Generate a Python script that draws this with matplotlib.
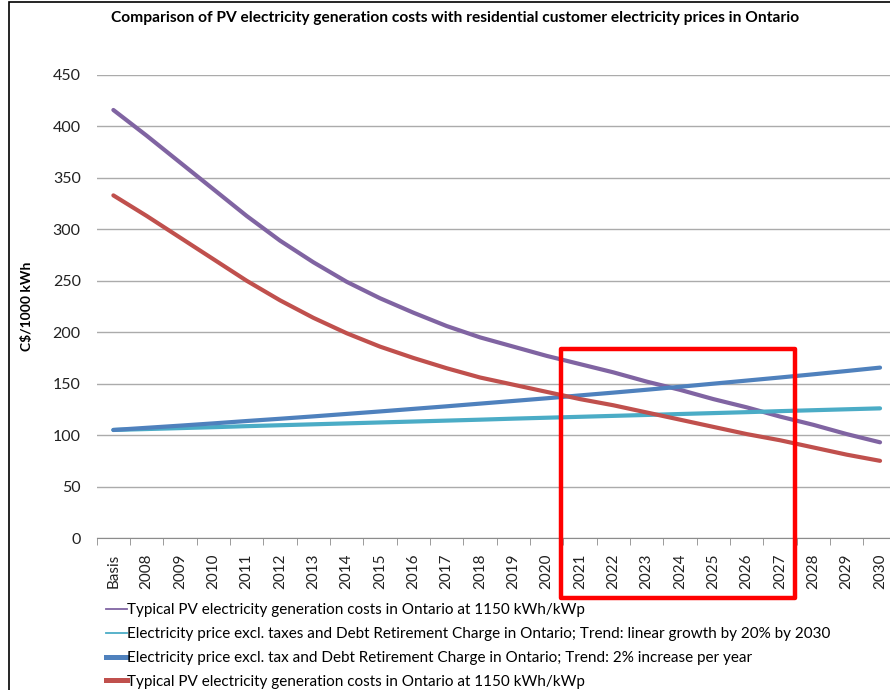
import matplotlib
matplotlib.use("Agg")
import matplotlib.pyplot as plt
from matplotlib.lines import Line2D
from matplotlib.patches import Rectangle

plt.rcParams["font.family"] = ["Lato", "DejaVu Sans"]

YEARS = ["Basis"] + [str(y) for y in range(2008, 2031)]

# C$/1000 kWh
PV_COST_A = [416, 391, 365, 339, 313, 289, 268, 249, 233, 219, 206, 195,
             186, 177, 169, 161, 152, 144, 135, 127, 118, 110, 101, 93]
PRICE_LINEAR = [105.0, 105.9, 106.8, 107.7, 108.7, 109.6, 110.5, 111.4,
                112.3, 113.2, 114.1, 115.0, 116.0, 116.9, 117.8, 118.7,
                119.6, 120.5, 121.4, 122.3, 123.3, 124.2, 125.1, 126.0]
PRICE_2PCT = [105.0, 107.1, 109.2, 111.4, 113.7, 115.9, 118.2, 120.6,
              123.0, 125.5, 128.0, 130.6, 133.2, 135.8, 138.6, 141.3,
              144.1, 147.0, 150.0, 153.0, 156.0, 159.1, 162.3, 165.6]
PV_COST_B = [333, 313, 292, 271, 250, 231, 214, 199, 186, 175, 165, 156,
             149, 142, 135, 129, 122, 115, 108, 101, 95, 88, 81, 75]

LABELS = [
    "Typical PV electricity generation costs in Ontario at 1150 kWh/kWp",
    "Electricity price excl. taxes and Debt Retirement Charge in Ontario; Trend: linear growth by 20% by 2030",
    "Electricity price excl. tax and Debt Retirement Charge in Ontario; Trend: 2% increase per year",
    "Typical PV electricity generation costs in Ontario at 1150 kWh/kWp",
]
COLORS = ["#8064A2", "#4BACC6", "#4F81BD", "#C0504D"]

W, H = 890, 690
fig = plt.figure(figsize=(W / 100, H / 100), dpi=100)

# chart frame (cut off at the right and bottom)
fig.add_artist(Rectangle((9 / W, -0.05), 1.2, 1.05 - 2 / H, transform=fig.transFigure,
                         fill=False, edgecolor="black", lw=1.2))

ax = fig.add_axes([96.7 / W, (H - 538) / H, 800 / W, 463 / H])
x = list(range(len(YEARS)))
series = [PV_COST_A, PRICE_LINEAR, PRICE_2PCT, PV_COST_B]
for ys, c in zip(series, COLORS):
    ax.plot(x, ys, color=c, lw=3.0, solid_capstyle="round",
            solid_joinstyle="round", zorder=3)

ax.set_xlim(-0.5, len(YEARS) - 0.5)
ax.set_ylim(0, 450)
ax.set_yticks(range(0, 451, 50))
ax.grid(axis="y", color="#ABABAB", lw=1.0)
ax.set_axisbelow(True)
for s in ("top", "right", "left"):
    ax.spines[s].set_visible(False)
ax.spines["bottom"].set_color("#8C8C8C")
ax.tick_params(axis="y", length=0, pad=11.5, labelsize=11.5, labelcolor="#222222")
ax.set_xticks(x)
ax.set_xticklabels(YEARS, rotation=90, fontsize=11, color="#222222")
ax.set_xticks([i - 0.5 for i in range(len(YEARS) + 1)], minor=True)
ax.tick_params(axis="x", which="major", length=0, pad=11)
ax.tick_params(axis="x", which="minor", length=5, color="#8C8C8C")
ax.set_ylabel("C$/1000 kWh", fontsize=10, fontweight="bold")
ax.yaxis.set_label_coords((33 - 96.7) / 800, 0.5)

# highlighted period 2021-2027
ax.add_patch(Rectangle((13.42, -58), 7.02, 241.8, fill=False, edgecolor="#FF0000",
                       lw=3.2, clip_on=False, zorder=5, joinstyle="round"))

fig.text(455 / W, 1 - 18 / H,
         "Comparison of PV electricity generation costs with residential customer electricity prices in Ontario",
         ha="center", va="center", fontsize=11.2, fontweight="bold")

handles = [Line2D([], [], color=COLORS[0], lw=1.3),
           Line2D([], [], color=COLORS[1], lw=1.3),
           Line2D([], [], color=COLORS[2], lw=3.6),
           Line2D([], [], color=COLORS[3], lw=3.6)]
fig.legend(handles, LABELS, loc="upper left", bbox_to_anchor=(106 / W, 1 - 603 / H),
           frameon=False, fontsize=11, handlelength=1.35, handletextpad=0.05,
           labelspacing=0.65, borderaxespad=0, borderpad=0)

fig.savefig("out.png", dpi=100)
